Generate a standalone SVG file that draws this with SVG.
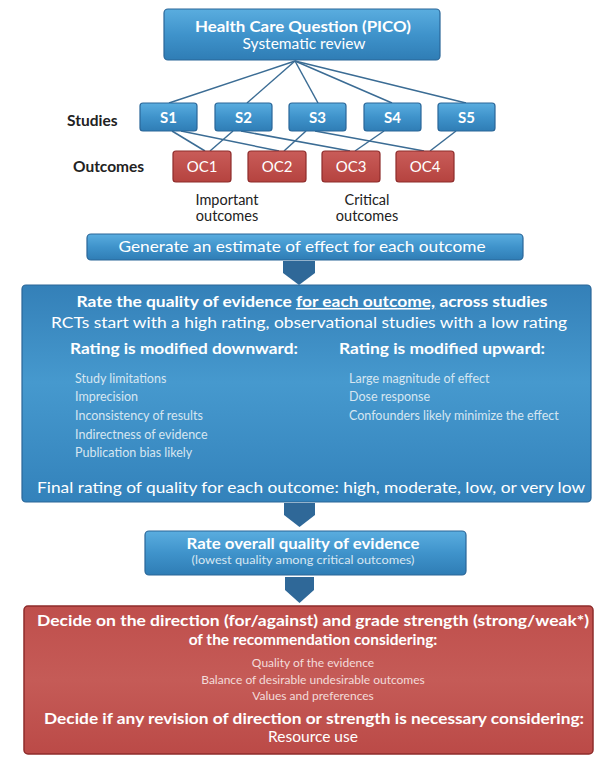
<svg xmlns="http://www.w3.org/2000/svg" width="599" height="775" viewBox="0 0 599 775">
  <defs>
    <linearGradient id="gBlue" x1="0" y1="0" x2="0" y2="1">
      <stop offset="0" stop-color="#5aaddf"/>
      <stop offset="0.5" stop-color="#3f93cb"/>
      <stop offset="1" stop-color="#2f7db5"/>
    </linearGradient>
    <linearGradient id="gBig" x1="0" y1="0" x2="0" y2="1">
      <stop offset="0" stop-color="#3480b8"/>
      <stop offset="0.45" stop-color="#4699ce"/>
      <stop offset="1" stop-color="#3382bb"/>
    </linearGradient>
    <linearGradient id="gRed" x1="0" y1="0" x2="0" y2="1">
      <stop offset="0" stop-color="#c95c59"/>
      <stop offset="1" stop-color="#b5433f"/>
    </linearGradient>
    <linearGradient id="gRedBig" x1="0" y1="0" x2="0" y2="1">
      <stop offset="0" stop-color="#bf4f4c"/>
      <stop offset="0.5" stop-color="#c55b57"/>
      <stop offset="1" stop-color="#bb4a47"/>
    </linearGradient>
  </defs>
  <style>
    .blue { fill: url(#gBlue); stroke: #2a6698; stroke-width: 1.2; }
    .big { fill: url(#gBig); stroke: #2a6698; stroke-width: 1.2; }
    .red { fill: url(#gRed); stroke: #8e2c2b; stroke-width: 1.2; }
    .redbig { fill: url(#gRedBig); stroke: #8e2c2b; stroke-width: 1.5; }
    .arrow { fill: #2f6898; }
    .conn line { stroke: #3b6c94; stroke-width: 1.5; }
    text { font-family: Lato, "Open Sans", "Liberation Sans", sans-serif; }
    .w { fill: #ffffff; }
    .lt { fill: #d6e6f1; }
    .lr { fill: #f3dcda; }
    .dk { fill: #222222; }
    .b { font-weight: bold; }
    .c { text-anchor: middle; }
  </style>

  <!-- connectors -->
  <g id="connectors" class="conn">
    <line x1="295" y1="61" x2="169" y2="103"/>
    <line x1="295" y1="61" x2="247" y2="103"/>
    <line x1="295" y1="61" x2="318" y2="103"/>
    <line x1="295" y1="61" x2="392" y2="103"/>
    <line x1="295" y1="61" x2="466" y2="103"/>
    <line x1="172" y1="131" x2="205" y2="151"/>
    <line x1="181" y1="131" x2="279" y2="151"/>
    <line x1="233" y1="131" x2="210" y2="151"/>
    <line x1="241" y1="131" x2="350" y2="151"/>
    <line x1="306" y1="131" x2="284" y2="151"/>
    <line x1="315" y1="131" x2="424" y2="151"/>
    <line x1="384" y1="131" x2="355" y2="151"/>
    <line x1="456" y1="131" x2="430" y2="151"/>
  </g>

  <!-- question -->
  <g id="pico">
    <rect class="blue" x="164" y="9" width="276" height="51" rx="4"/>
    <text class="w b c" x="303" y="32" font-size="15.5" textLength="216" lengthAdjust="spacingAndGlyphs">Health Care Question (PICO)</text>
    <text class="w c" x="304" y="48.5" font-size="15.5">Systematic review</text>
  </g>

  <!-- row labels -->
  <g id="label-studies"><text class="dk b" x="67" y="126" font-size="15.5">Studies</text></g>
  <g id="label-outcomes"><text class="dk b" x="73" y="172" font-size="15.5">Outcomes</text></g>

  <!-- studies -->
  <g id="s1"><rect class="blue" x="140" y="103" width="57" height="28" rx="3"/><text class="w b c" x="168.5" y="123" font-size="15">S1</text></g>
  <g id="s2"><rect class="blue" x="215" y="103" width="57" height="28" rx="3"/><text class="w b c" x="243.5" y="123" font-size="15">S2</text></g>
  <g id="s3"><rect class="blue" x="289" y="103" width="57" height="28" rx="3"/><text class="w b c" x="317.5" y="123" font-size="15">S3</text></g>
  <g id="s4"><rect class="blue" x="364" y="103" width="57" height="28" rx="3"/><text class="w b c" x="392.5" y="123" font-size="15">S4</text></g>
  <g id="s5"><rect class="blue" x="438" y="103" width="57" height="28" rx="3"/><text class="w b c" x="466.5" y="123" font-size="15">S5</text></g>

  <!-- outcomes -->
  <g id="oc1"><rect class="red" x="173" y="151" width="58" height="31" rx="3"/><text class="w c" x="202" y="172" font-size="15">OC1</text></g>
  <g id="oc2"><rect class="red" x="248" y="151" width="58" height="31" rx="3"/><text class="w c" x="277" y="172" font-size="15">OC2</text></g>
  <g id="oc3"><rect class="red" x="322" y="151" width="58" height="31" rx="3"/><text class="w c" x="351" y="172" font-size="15">OC3</text></g>
  <g id="oc4"><rect class="red" x="396" y="151" width="58" height="31" rx="3"/><text class="w c" x="425" y="172" font-size="15">OC4</text></g>

  <g id="important">
    <text class="dk c" x="227" y="205" font-size="14.5">Important</text>
    <text class="dk c" x="227" y="221" font-size="14.5">outcomes</text>
  </g>
  <g id="critical">
    <text class="dk c" x="367" y="205" font-size="14.5">Critical</text>
    <text class="dk c" x="367" y="221" font-size="14.5">outcomes</text>
  </g>

  <!-- estimate -->
  <g id="estimate">
    <rect class="blue" x="87" y="234" width="436" height="26" rx="4"/>
    <text class="w c" x="302" y="252" font-size="15" textLength="367" lengthAdjust="spacingAndGlyphs">Generate an estimate of effect for each outcome</text>
  </g>

  <g id="arrows">
    <polygon class="arrow" points="283,261 315,261 315,273 299,285 283,273"/>
    <polygon class="arrow" points="284,503 315,503 315,515 299.5,527 284,515"/>
    <polygon class="arrow" points="285,577 314,577 314,590 299.5,603 285,590"/>
  </g>

  <!-- quality per outcome -->
  <g id="rate-outcome">
    <rect class="big" x="22" y="285" width="569" height="217" rx="4"/>
    <text class="w b c" x="312" y="307" font-size="15.5" textLength="471" lengthAdjust="spacingAndGlyphs">Rate the quality of evidence <tspan text-decoration="underline">for each outcome,</tspan> across studies</text>
    <text class="w c" x="309" y="328" font-size="15.5" textLength="516" lengthAdjust="spacingAndGlyphs">RCTs start with a high rating, observational studies with a low rating</text>

    <text class="w b" x="70" y="354" font-size="15" textLength="228" lengthAdjust="spacingAndGlyphs">Rating is modified downward:</text>
    <text class="lt" x="75" y="383" font-size="12.5">Study limitations</text>
    <text class="lt" x="75" y="401" font-size="12.5">Imprecision</text>
    <text class="lt" x="75" y="420" font-size="12.5">Inconsistency of results</text>
    <text class="lt" x="75" y="439" font-size="12.5">Indirectness of evidence</text>
    <text class="lt" x="75" y="457" font-size="12.5">Publication bias likely</text>

    <text class="w b" x="339" y="354" font-size="15" textLength="206" lengthAdjust="spacingAndGlyphs">Rating is modified upward:</text>
    <text class="lt" x="349" y="383" font-size="12.5">Large magnitude of effect</text>
    <text class="lt" x="349" y="401" font-size="12.5">Dose response</text>
    <text class="lt" x="349" y="420" font-size="12.5">Confounders likely minimize the effect</text>

    <text class="w c" x="311" y="493" font-size="16" textLength="548" lengthAdjust="spacingAndGlyphs">Final rating of quality for each outcome: high, moderate, low, or very low</text>
  </g>

  <!-- overall quality -->
  <g id="rate-overall">
    <rect class="blue" x="145" y="531" width="321" height="44" rx="4"/>
    <text class="w b c" x="303" y="549" font-size="15" textLength="233" lengthAdjust="spacingAndGlyphs">Rate overall quality of evidence</text>
    <text class="lt c" x="303" y="564" font-size="11" textLength="223" lengthAdjust="spacingAndGlyphs">(lowest quality among critical outcomes)</text>
  </g>

  <!-- recommendation -->
  <g id="recommendation">
    <rect class="redbig" x="24" y="606" width="569" height="148" rx="4"/>
    <text class="w b c" x="313" y="626" font-size="15.5" textLength="552" lengthAdjust="spacingAndGlyphs">Decide on the direction (for/against) and grade strength (strong/weak*)</text>
    <text class="w b c" x="313" y="645" font-size="15.5">of the recommendation considering:</text>
    <text class="lr c" x="313" y="667" font-size="12">Quality of the evidence</text>
    <text class="lr c" x="313" y="684" font-size="12">Balance of desirable undesirable outcomes</text>
    <text class="lr c" x="313" y="700" font-size="12">Values and preferences</text>
    <text class="w b c" x="314" y="724" font-size="15.5" textLength="540" lengthAdjust="spacingAndGlyphs">Decide if any revision of direction or strength is necessary considering:</text>
    <text class="w c" x="313" y="742" font-size="15.5">Resource use</text>
  </g>
</svg>
